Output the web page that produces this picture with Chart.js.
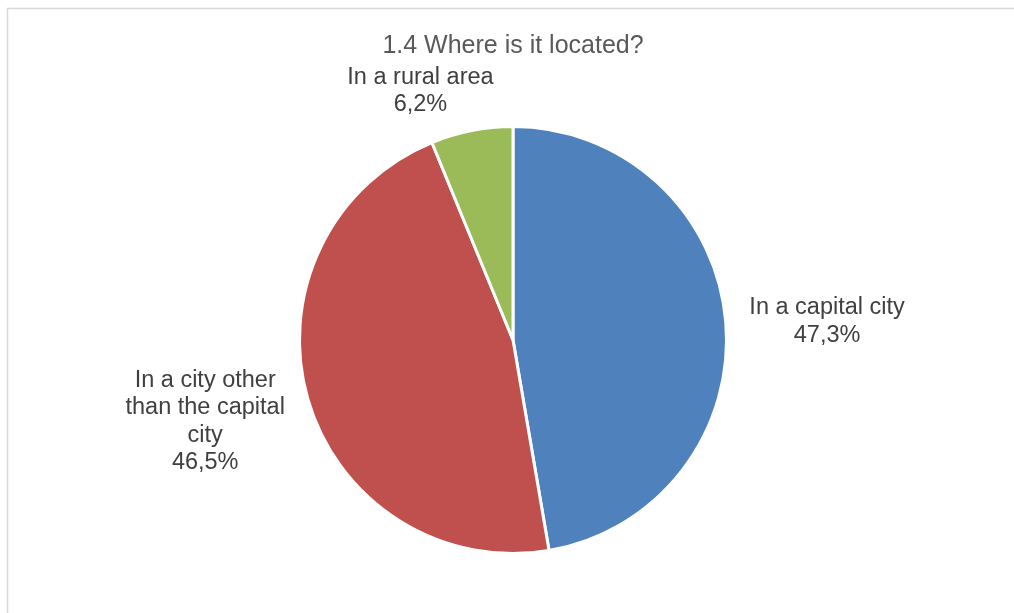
<!DOCTYPE html>
<html>
<head>
<meta charset="utf-8">
<title>1.4 Where is it located?</title>
<script src="https://cdn.jsdelivr.net/npm/chart.js@4"></script>
<style>
  html, body { margin: 0; padding: 0; background: #fff; }
  #wrap { position: relative; width: 1014px; height: 613px; }
</style>
</head>
<body>
<div id="wrap"><canvas id="pieChart" width="1014" height="613"></canvas></div>
<script>
const labels = ["In a capital city", "In a city other than the capital city", "In a rural area"];
const values = [47.3, 46.5, 6.2];
const colors = ["#4f81bd", "#c0504d", "#9bbb59"];

const FONT = "'Liberation Sans', Arial, sans-serif";

// light frame around the chart
const framePlugin = {
    id: "frame",
    beforeDraw(chart) {
        const ctx = chart.ctx;
        ctx.save();
        ctx.strokeStyle = "#d9d9d9";
        ctx.lineWidth = 1.5;
        ctx.strokeRect(7.5, 8.5, chart.width + 20, chart.height + 20);
        ctx.restore();
    }
};

function wrapText(ctx, text, maxWidth) {
    const words = text.split(" ");
    const lines = [];
    let line = "";
    words.forEach(w => {
        const test = line ? line + " " + w : w;
        if (line && ctx.measureText(test).width > maxWidth) {
            lines.push(line);
            line = w;
        } else {
            line = test;
        }
    });
    if (line) lines.push(line);
    return lines;
}

// category + percentage labels outside each slice
const outsideLabels = {
    id: "outsideLabels",
    afterDatasetsDraw(chart, args, opts) {
        const ctx = chart.ctx;
        const meta = chart.getDatasetMeta(0);
        ctx.save();
        ctx.font = opts.size + "px " + FONT;
        ctx.fillStyle = opts.color;
        ctx.textAlign = "center";
        ctx.textBaseline = "middle";
        meta.data.forEach((arc, i) => {
            const pct = values[i].toFixed(1).replace(".", ",") + "%";
            const lines = wrapText(ctx, labels[i], opts.maxWidth).concat([pct]);
            const w = Math.max(...lines.map(l => ctx.measureText(l).width));
            const h = lines.length * opts.lineHeight;
            const mid = (arc.startAngle + arc.endAngle) / 2;
            const R = arc.outerRadius + opts.gap;
            const ax = arc.x + Math.cos(mid) * R;
            const ay = arc.y + Math.sin(mid) * R;
            const shift = opts.shift[i] || [0, 0];
            const cx = ax + Math.cos(mid) * w / 2 + shift[0];
            const cy = ay + Math.sin(mid) * h / 2 + shift[1];
            lines.forEach((l, k) => {
                ctx.fillText(l, cx, cy - h / 2 + opts.lineHeight * (k + 0.5));
            });
        });
        ctx.restore();
    }
};

new Chart(document.getElementById("pieChart").getContext("2d"), {
    type: "pie",
    data: {
        labels: labels,
        datasets: [{
            data: values,
            backgroundColor: colors,
            borderColor: "#ffffff",
            borderWidth: 3,
            hoverOffset: 0
        }]
    },
    options: {
        responsive: false,
        animation: false,
        layout: {
            padding: { left: 298, right: 286, top: 0, bottom: 58 }
        },
        plugins: {
            legend: { display: false },
            tooltip: { enabled: false },
            title: {
                display: true,
                text: "1.4 Where is it located?",
                color: "#595959",
                font: { family: FONT, size: 25, weight: "normal" },
                padding: { top: 31, bottom: 64 }
            },
            outsideLabels: {
                size: 23.5,
                color: "#404040",
                lineHeight: 27.5,
                maxWidth: 172,
                gap: 26,
                shift: { 0: [-2, 4], 1: [-1, 0], 2: [-32, 13] }
            }
        }
    },
    plugins: [framePlugin, outsideLabels]
});
</script>
</body>
</html>
